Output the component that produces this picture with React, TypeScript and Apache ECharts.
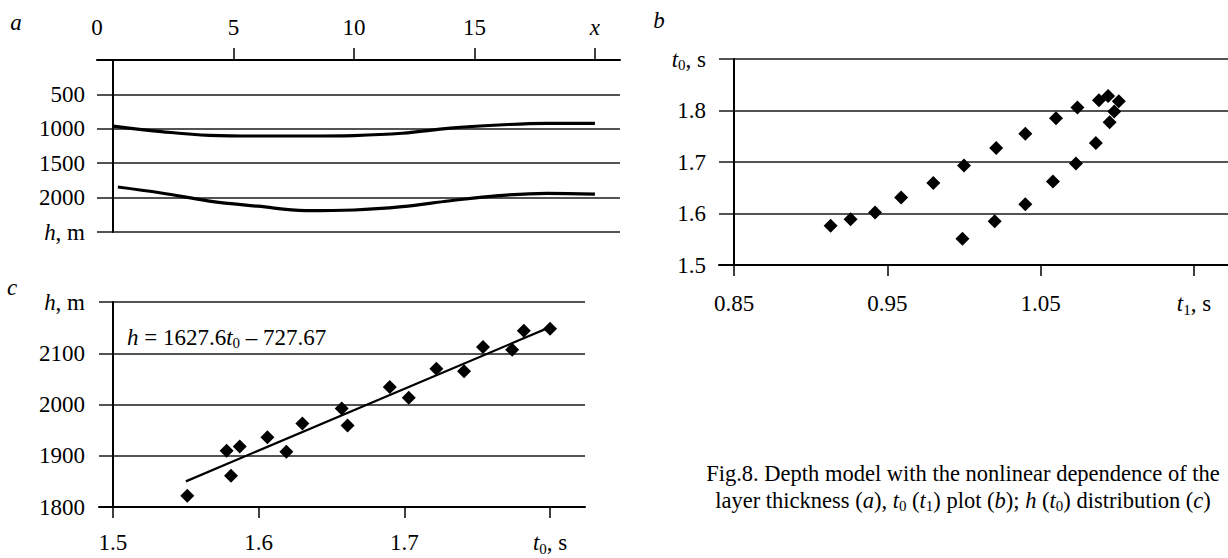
import React, { useEffect, useRef } from 'react';
import * as echarts from 'echarts';

// Panel a: layer boundaries h(x)
const topX = [0, 2, 4, 6, 8, 10, 12, 14, 16, 18, 20];
const topDepth = [960, 1040, 1095, 1105, 1105, 1098, 1065, 990, 945, 920, 922];
const bottomX = [0.2, 2, 4, 6, 8, 10, 12, 14, 16, 18, 20];
const bottomDepth = [1846, 1933, 2050, 2125, 2190, 2180, 2132, 2046, 1972, 1938, 1950];
const xTicksA = [5, 10, 15, 20];
const xLabelValsA = [-0.664, 5, 10, 15, 20];
const xLabelsA = ['{n|0}', '{n|5}', '{n|10}', '{n|15}', '{i|x}'];
const yTicksA = [0, 500, 1000, 1500, 2000, 2500];
const yLabelsA = ['', '{n|500}', '{n|1000}', '{n|1500}', '{n|2000}', '{i|h}{n|, m}'];

// Panel b: t0(t1)
const t1Vals = [0.913, 0.926, 0.942, 0.959, 0.980, 1.000, 1.021, 1.040, 1.060, 1.074, 1.088, 1.094, 1.101, 1.098, 1.095, 1.086, 1.073, 1.058, 1.040, 1.020, 0.999];
const t0Vals = [1.576, 1.589, 1.602, 1.631, 1.659, 1.693, 1.727, 1.755, 1.785, 1.806, 1.820, 1.828, 1.818, 1.798, 1.777, 1.737, 1.697, 1.662, 1.618, 1.585, 1.551];
const xTicksB = [0.85, 0.95, 1.05, 1.15];
const xLabelsB = ['{n|0.85}', '{n|0.95}', '{n|1.05}', '{i|t}{sub|1}{n|, s}'];
const yTicksB = [1.5, 1.6, 1.7, 1.8, 1.9];
const yLabelsB = ['{n|1.5}', '{n|1.6}', '{n|1.7}', '{n|1.8}', '{i|t}{sub|0}{n|, s}'];

// Panel c: h(t0)
const t0C = [1.551, 1.578, 1.581, 1.587, 1.606, 1.619, 1.630, 1.657, 1.661, 1.690, 1.703, 1.722, 1.741, 1.754, 1.774, 1.782, 1.800];
const hC = [1822, 1910, 1861, 1918, 1936, 1908, 1963, 1992, 1959, 2034, 2013, 2070, 2065, 2112, 2107, 2144, 2148];
const fitT0 = [1.55, 1.80];
const fitH = [1850, 2151];
const xTicksC = [1.5, 1.6, 1.7, 1.8];
const xLabelsC = ['{n|1.5}', '{n|1.6}', '{n|1.7}', '{i|t}{sub|0}{n|, s}'];
const yTicksC = [1800, 1900, 2000, 2100, 2200];
const yLabelsC = ['{n|1800}', '{n|1900}', '{n|2000}', '{n|2100}', '{i|h}{n|, m}'];

const equation = '{i|h}{n| = 1627.6}{i|t}{sub|0}{n| – 727.67}';
const caption1 = '{n|Fig.8. Depth model with the nonlinear dependence of the}';
const caption2 = '{n|layer thickness (}{i|a}{n|), }{i|t}{sub|0}{n| (}{i|t}{sub|1}{n|) plot (}{i|b}{n|); }{i|h}{n| (}{i|t}{sub|0}{n|) distribution (}{i|c}{n|)}';

const FONT = 'Liberation Serif';
const FS = 23;

const mkRich = (fs: number, sfs: number, lh: number) => ({
  n: { fontSize: fs, fontFamily: FONT, color: '#000', lineHeight: lh },
  i: { fontStyle: 'italic', fontSize: fs, fontFamily: FONT, color: '#000', lineHeight: lh },
  sub: { fontSize: sfs, fontFamily: FONT, color: '#000', verticalAlign: 'bottom', lineHeight: sfs },
});
const rich = mkRich(FS, 15, 27);
const richCap = mkRich(22.5, 15, 27);

const pick = (vals: number[], labels: string[]) => (v: number) => {
  let best = 0;
  for (let k = 1; k < vals.length; k++) if (Math.abs(vals[k] - v) < Math.abs(vals[best] - v)) best = k;
  return Math.abs(vals[best] - v) < 1e-6 * Math.max(1, Math.abs(v)) + 1e-9 ? labels[best] : '';
};

const zip = (a: number[], b: number[]) => a.map((v, k) => [v, b[k]]);

const axisLineStyle = { color: '#000', width: 2 };
const splitStyle = { color: '#1a1a1a', width: 1.5 };

export default function App() {
  const ref = useRef<HTMLDivElement>(null);
  useEffect(() => {
    if (!ref.current) return;
    const chart = echarts.init(ref.current, null, { renderer: 'svg' });
    const xBase = (gi: number, min: number, max: number, ticks: number[], lvals: number[], labels: string[], pos: 'top' | 'bottom', margin: number) => ({
      type: 'value', gridIndex: gi, min, max, position: pos,
      axisLine: { show: true, onZero: false, lineStyle: axisLineStyle },
      axisTick: { show: true, customValues: ticks, length: pos === 'top' ? 12 : 11, lineStyle: { color: '#000', width: 1.5 } },
      axisLabel: { customValues: lvals, formatter: pick(lvals, labels), fontSize: FS, fontFamily: FONT, color: '#000', margin, rich, hideOverlap: false },
      splitLine: { show: false },
    });
    const yBase = (gi: number, min: number, max: number, interval: number, ticks: number[], labels: string[], offset: number, inverse: boolean) => ({
      type: 'value', gridIndex: gi, min, max, interval, inverse, offset,
      axisLine: { show: true, onZero: false, lineStyle: axisLineStyle },
      axisTick: { show: false },
      axisLabel: { formatter: pick(ticks, labels), fontSize: FS, fontFamily: FONT, color: '#000', margin: 28, rich, showMinLabel: true, showMaxLabel: true },
      splitLine: { show: true, lineStyle: splitStyle },
    });
    chart.setOption({
      animation: false,
      backgroundColor: '#fff',
      textStyle: { fontFamily: FONT, color: '#000' },
      grid: [
        { left: 97, top: 60, width: 523, height: 172 },
        { left: 719, top: 59, width: 509, height: 206 },
        { left: 99, top: 302, width: 486, height: 205 },
      ],
      xAxis: [
        xBase(0, -0.664, 21.04, xTicksA, xLabelValsA, xLabelsA, 'top', 19),
        xBase(1, 0.8402, 1.1722, xTicksB, xTicksB, xLabelsB, 'bottom', 25),
        xBase(2, 1.4904, 1.824, xTicksC, xTicksC, xLabelsC, 'bottom', 22),
      ],
      yAxis: [
        yBase(0, 0, 2500, 500, yTicksA, yLabelsA, -16, true),
        yBase(1, 1.5, 1.9, 0.1, yTicksB, yLabelsB, -15, false),
        yBase(2, 1800, 2200, 100, yTicksC, yLabelsC, -14, false),
      ],
      series: [
        { type: 'line', xAxisIndex: 0, yAxisIndex: 0, data: zip(topX, topDepth), smooth: 0.4, showSymbol: false, lineStyle: { color: '#000', width: 3.2 } },
        { type: 'line', xAxisIndex: 0, yAxisIndex: 0, data: zip(bottomX, bottomDepth), smooth: 0.4, showSymbol: false, lineStyle: { color: '#000', width: 3.2 } },
        { type: 'scatter', xAxisIndex: 1, yAxisIndex: 1, data: zip(t1Vals, t0Vals), symbol: 'diamond', symbolSize: 14, itemStyle: { color: '#000', opacity: 1 } },
        { type: 'line', xAxisIndex: 2, yAxisIndex: 2, data: zip(fitT0, fitH), showSymbol: false, lineStyle: { color: '#000', width: 2.2 } },
        { type: 'scatter', xAxisIndex: 2, yAxisIndex: 2, data: zip(t0C, hC), symbol: 'diamond', symbolSize: 14, itemStyle: { color: '#000', opacity: 1 } },
      ],
      graphic: [
        { type: 'text', x: 16, y: 22, style: { text: '{i|a}', rich, align: 'center', verticalAlign: 'middle' } },
        { type: 'text', x: 659, y: 20, style: { text: '{i|b}', rich, align: 'center', verticalAlign: 'middle' } },
        { type: 'text', x: 12, y: 287, style: { text: '{i|c}', rich, align: 'center', verticalAlign: 'middle' } },
        { type: 'text', x: 127, y: 337, style: { text: equation, rich, verticalAlign: 'middle' } },
        { type: 'text', x: 963, y: 473, style: { text: caption1, rich: richCap, align: 'center', verticalAlign: 'middle' } },
        { type: 'text', x: 963, y: 500, style: { text: caption2, rich: richCap, align: 'center', verticalAlign: 'middle' } },
      ],
    });
    return () => chart.dispose();
  }, []);
  return <div ref={ref} style={{ position: 'fixed', left: 0, top: 0, width: 1228, height: 558, background: '#fff' }} />;
}
